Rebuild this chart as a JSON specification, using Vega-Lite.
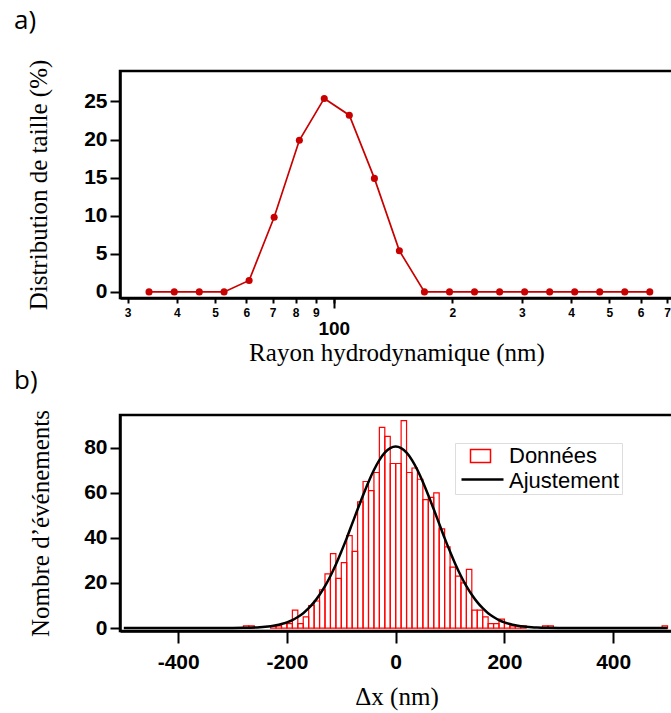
{
  "$schema": "https://vega.github.io/schema/vega-lite/v6.json",
  "padding": {"left": 12, "top": 6, "right": 0, "bottom": 0},
  "spacing": 0,
  "resolve": {"scale": {"stroke": "independent", "color": "independent"}, "legend": {"stroke": "independent", "color": "independent"}},
  "config": {
    "view": {"stroke": "black", "strokeWidth": 2.5},
    "axis": {
      "domainColor": "black", "domainWidth": 2.5, "tickColor": "black", "tickWidth": 2,
      "labelFont": "Liberation Sans", "labelFontWeight": "bold", "labelFontSize": 21, "labelColor": "black",
      "titleFont": "Liberation Serif", "titleFontWeight": "normal", "titleFontSize": 25, "titleColor": "black",
      "grid": false
    }
  },
  "vconcat": [
    {
      "width": 553,
      "height": 227,
      "title": {"text": "a)", "anchor": "start", "frame": "group", "dx": -106, "offset": 25, "fontSize": 26, "font": "Open Sans", "fontWeight": "normal", "color": "black"},
      "data": {"values": [
        {"rayon": 34.0, "pct": 0}, {"rayon": 39.4, "pct": 0}, {"rayon": 45.6, "pct": 0}, {"rayon": 52.7, "pct": 0},
        {"rayon": 61.0, "pct": 1.5}, {"rayon": 70.6, "pct": 9.8}, {"rayon": 81.8, "pct": 19.9}, {"rayon": 94.6, "pct": 25.4},
        {"rayon": 109.5, "pct": 23.2}, {"rayon": 126.8, "pct": 14.9}, {"rayon": 146.7, "pct": 5.4}, {"rayon": 169.8, "pct": 0},
        {"rayon": 196.6, "pct": 0}, {"rayon": 227.5, "pct": 0}, {"rayon": 263.4, "pct": 0}, {"rayon": 304.8, "pct": 0},
        {"rayon": 352.8, "pct": 0}, {"rayon": 408.3, "pct": 0}, {"rayon": 472.6, "pct": 0}, {"rayon": 547.0, "pct": 0},
        {"rayon": 633.1, "pct": 0}
      ]},
      "layer": [
        {
          "mark": {"type": "line", "color": "#c80000", "strokeWidth": 1.7, "point": {"filled": true, "size": 50, "color": "#c80000"}},
          "encoding": {
            "x": {"field": "rayon", "type": "quantitative",
              "scale": {"type": "log", "domain": [28.7, 725], "nice": false},
              "axis": {"orient": "bottom", "values": [30, 40, 50, 60, 70, 80, 90, 100, 200, 300, 400, 500, 600, 700],
                "labelExpr": "datum.value == 100 ? '' : substring(toString(datum.value), 0, 1)",
                "tickSize": 5, "labelFontSize": 12, "labelPadding": 4, "title": null, "labelFlush": false, "labelOverlap": false}},
            "y": {"field": "pct", "type": "quantitative",
              "scale": {"domain": [-0.8, 29], "nice": false, "zero": false},
              "axis": {"values": [0, 5, 10, 15, 20, 25], "tickSize": 10, "labelPadding": 3, "title": "Distribution de taille (%)", "titlePadding": 32}}
          }
        },
        {
          "mark": {"type": "point", "opacity": 0},
          "encoding": {
            "x": {"field": "rayon", "type": "quantitative",
              "axis": {"orient": "bottom", "values": [100], "format": "d", "tickSize": 10, "labelFontSize": 19, "labelPadding": 11, "domain": false,
                "title": "Rayon hydrodynamique (nm)", "titlePadding": 2}}
          }
        }
      ],
      "resolve": {"axis": {"x": "independent"}}
    },
    {
      "width": 553,
      "height": 216,
      "title": {"text": "b)", "anchor": "start", "frame": "group", "dx": -106, "offset": 15, "fontSize": 26, "font": "Open Sans", "fontWeight": "normal", "color": "black"},
      "layer": [
        {
          "data": {"values": [
            {"debut": -280, "fin": -270, "n": 1}, {"debut": -270, "fin": -260, "n": 1},
            {"debut": -230, "fin": -220, "n": 1}, {"debut": -220, "fin": -210, "n": 1},
            {"debut": -210, "fin": -200, "n": 2}, {"debut": -200, "fin": -190, "n": 2},
            {"debut": -190, "fin": -180, "n": 8}, {"debut": -180, "fin": -170, "n": 2},
            {"debut": -170, "fin": -160, "n": 5}, {"debut": -160, "fin": -150, "n": 10},
            {"debut": -150, "fin": -140, "n": 12}, {"debut": -140, "fin": -130, "n": 17},
            {"debut": -130, "fin": -120, "n": 24}, {"debut": -120, "fin": -110, "n": 33},
            {"debut": -110, "fin": -100, "n": 22}, {"debut": -100, "fin": -90, "n": 29},
            {"debut": -90, "fin": -80, "n": 41}, {"debut": -80, "fin": -70, "n": 34},
            {"debut": -70, "fin": -60, "n": 56}, {"debut": -60, "fin": -50, "n": 65},
            {"debut": -50, "fin": -40, "n": 61}, {"debut": -40, "fin": -30, "n": 69},
            {"debut": -30, "fin": -20, "n": 89}, {"debut": -20, "fin": -10, "n": 85},
            {"debut": -10, "fin": 0, "n": 73}, {"debut": 0, "fin": 10, "n": 73},
            {"debut": 10, "fin": 20, "n": 92}, {"debut": 20, "fin": 30, "n": 69},
            {"debut": 30, "fin": 40, "n": 71}, {"debut": 40, "fin": 50, "n": 66},
            {"debut": 50, "fin": 60, "n": 57}, {"debut": 60, "fin": 70, "n": 58},
            {"debut": 70, "fin": 80, "n": 60}, {"debut": 80, "fin": 90, "n": 44},
            {"debut": 90, "fin": 100, "n": 36}, {"debut": 100, "fin": 110, "n": 27},
            {"debut": 110, "fin": 120, "n": 23}, {"debut": 120, "fin": 130, "n": 20},
            {"debut": 130, "fin": 140, "n": 26}, {"debut": 140, "fin": 150, "n": 8},
            {"debut": 150, "fin": 160, "n": 8}, {"debut": 160, "fin": 170, "n": 5},
            {"debut": 170, "fin": 180, "n": 2}, {"debut": 180, "fin": 190, "n": 2},
            {"debut": 190, "fin": 200, "n": 4}, {"debut": 200, "fin": 210, "n": 2},
            {"debut": 210, "fin": 220, "n": 1}, {"debut": 220, "fin": 230, "n": 1},
            {"debut": 230, "fin": 240, "n": 1}, {"debut": 270, "fin": 280, "n": 1},
            {"debut": 280, "fin": 290, "n": 1}, {"debut": 490, "fin": 500, "n": 1}
          ]},
          "mark": {"type": "bar", "fill": "transparent", "strokeWidth": 1.2},
          "encoding": {
            "x": {"field": "debut", "type": "quantitative",
              "scale": {"domain": [-507, 510], "nice": false},
              "axis": {"values": [-400, -200, 0, 200, 400], "labelExpr": "toString(datum.value)", "tickSize": 12, "labelPadding": 8, "labelFontSize": 21, "title": "Δx (nm)", "titlePadding": 12}},
            "x2": {"field": "fin"},
            "y": {"field": "n", "type": "quantitative",
              "scale": {"domain": [-1.3, 94.5], "nice": false, "zero": false},
              "axis": {"values": [0, 20, 40, 60, 80], "tickSize": 10, "labelPadding": 3, "title": "Nombre d’événements", "titlePadding": 30}},
            "y2": {"datum": 0},
            "stroke": {"datum": "Données", "type": "nominal",
              "scale": {"domain": ["Données", "Ajustement"], "range": ["#ff0000", "rgba(0,0,0,0)"]},
              "legend": {"orient": "none", "legendX": 335, "legendY": 28, "title": null,
                "labelFont": "Liberation Sans", "labelFontSize": 22, "labelFontWeight": "normal", "labelColor": "black",
                "symbolType": "M0.25,-0.65H2.25V0.65H0.25Z", "symbolSize": 400, "symbolStrokeWidth": 1.5, "symbolFillColor": "transparent",
                "labelOffset": 30, "rowPadding": 3, "strokeColor": "#dddddd", "padding": 2}}
          }
        },
        {
          "data": {"values": [
            {"dx": -500, "ajust": 0}, {"dx": -400, "ajust": 0}, {"dx": -300, "ajust": 0.03}, {"dx": -280, "ajust": 0.09},
            {"dx": -260, "ajust": 0.23}, {"dx": -250, "ajust": 0.36}, {"dx": -240, "ajust": 0.55}, {"dx": -230, "ajust": 0.83},
            {"dx": -220, "ajust": 1.22}, {"dx": -210, "ajust": 1.77}, {"dx": -200, "ajust": 2.5}, {"dx": -190, "ajust": 3.5},
            {"dx": -180, "ajust": 4.9}, {"dx": -170, "ajust": 6.6}, {"dx": -160, "ajust": 8.8}, {"dx": -150, "ajust": 11.5},
            {"dx": -140, "ajust": 14.8}, {"dx": -130, "ajust": 18.6}, {"dx": -120, "ajust": 23.1}, {"dx": -110, "ajust": 28.2},
            {"dx": -100, "ajust": 33.9}, {"dx": -90, "ajust": 39.9}, {"dx": -80, "ajust": 46.3}, {"dx": -70, "ajust": 52.7},
            {"dx": -60, "ajust": 58.9}, {"dx": -50, "ajust": 64.8}, {"dx": -40, "ajust": 70.1}, {"dx": -30, "ajust": 74.5},
            {"dx": -20, "ajust": 77.8}, {"dx": -10, "ajust": 79.8}, {"dx": 0, "ajust": 80.5}, {"dx": 10, "ajust": 79.8},
            {"dx": 20, "ajust": 77.8}, {"dx": 30, "ajust": 74.5}, {"dx": 40, "ajust": 70.1}, {"dx": 50, "ajust": 64.8},
            {"dx": 60, "ajust": 58.9}, {"dx": 70, "ajust": 52.7}, {"dx": 80, "ajust": 46.3}, {"dx": 90, "ajust": 39.9},
            {"dx": 100, "ajust": 33.9}, {"dx": 110, "ajust": 28.2}, {"dx": 120, "ajust": 23.1}, {"dx": 130, "ajust": 18.6},
            {"dx": 140, "ajust": 14.8}, {"dx": 150, "ajust": 11.5}, {"dx": 160, "ajust": 8.8}, {"dx": 170, "ajust": 6.6},
            {"dx": 180, "ajust": 4.9}, {"dx": 190, "ajust": 3.5}, {"dx": 200, "ajust": 2.5}, {"dx": 210, "ajust": 1.77},
            {"dx": 220, "ajust": 1.22}, {"dx": 230, "ajust": 0.83}, {"dx": 240, "ajust": 0.55}, {"dx": 250, "ajust": 0.36},
            {"dx": 260, "ajust": 0.23}, {"dx": 280, "ajust": 0.09}, {"dx": 300, "ajust": 0.03}, {"dx": 400, "ajust": 0},
            {"dx": 500, "ajust": 0}
          ]},
          "mark": {"type": "line", "strokeWidth": 2.5, "interpolate": "monotone"},
          "encoding": {
            "x": {"field": "dx", "type": "quantitative"},
            "y": {"field": "ajust", "type": "quantitative"},
            "color": {"datum": "Ajustement", "type": "nominal",
              "scale": {"domain": ["Ajustement"], "range": ["#000000"]},
              "legend": {"orient": "none", "legendX": 340, "legendY": 42, "title": null,
                "symbolType": "stroke", "symbolSize": 1764, "symbolStrokeWidth": 2.5,
                "labelExpr": "''", "labelFontSize": 1, "labelOffset": 0, "padding": 0}}
          }
        }
      ]
    }
  ]
}
